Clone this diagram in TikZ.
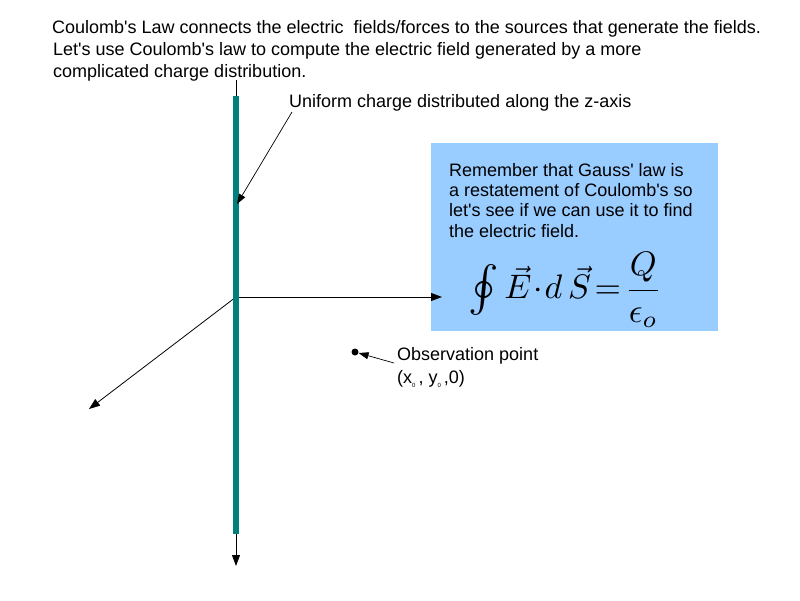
\documentclass[tikz,border=0pt]{standalone}
\usepackage{fontspec}
\setmainfont{Liberation Sans}[Ligatures=TeXOff]
\usetikzlibrary{arrows.meta}
\definecolor{barteal}{RGB}{0,128,124}
\definecolor{boxblue}{RGB}{153,204,255}
\tikzset{
  txt/.style={anchor=west, inner sep=0pt, font=\fontsize{18}{22}\selectfont, align=left},
  axis/.style={line width=0.8pt, -{Triangle[length=11pt,width=8pt]}},
  pointer/.style={line width=0.7pt, -{Triangle[length=10pt,width=7pt]}},
}
\newcommand{\smallsub}[1]{\raisebox{-4pt}{\fontsize{6}{6}\selectfont #1}}
\begin{document}
\begin{tikzpicture}[x=1pt,y=-1pt]
\useasboundingbox (0,0) rectangle (800,600);
% box
\node[fill=boxblue, minimum width=287pt, minimum height=188pt, anchor=north west, inner sep=0pt] (box) at (431,143) {};
% text lines
\node[txt] (t1) at (52,29) {Coulomb's Law connects the electric\ \ fields/forces to the sources that generate the fields.};
\node[txt] (t2) at (53,51) {Let's use Coulomb's law to compute the electric field generated by a more};
\node[txt] (t3) at (53,73) {complicated charge distribution.};
% axes
\coordinate (ztop) at (236,80);
\coordinate (zbot) at (236,566);
\coordinate (O) at (236,297);
\coordinate (yend) at (442,297);
\coordinate (xend) at (89,409);
\draw[line width=0.8pt] (ztop) -- (236,100);
\draw[axis] (236,530) -- (zbot);
\draw[axis] (O) -- (yend);
\draw[axis] (O) -- (xend);
% charged bar
\draw[barteal, line width=6.5pt] (236,96) -- (236,534);
% box text
\node[txt, anchor=north west, font=\fontsize{18}{20.3}\selectfont] (boxtxt) at (449,163) {Remember that Gauss' law is\\a restatement of Coulomb's so\\let's see if we can use it to find\\the electric field.};
\node[inner sep=0pt, scale=3.4, transform shape] (eq) at (565,290) {$\vcenter{\hbox{\scalebox{1.35}{$\oint$}}}\, \vec{E}\!\cdot\! d\,\vec{S}\!=\!\displaystyle\frac{Q}{\epsilon_{o}}$};
% charge label
\node[txt] (ulabel) at (289,103) {Uniform charge distributed along the z-axis};
\coordinate (ustart) at (292,112);
\coordinate (utip) at (237,204);
\draw[pointer] (ustart) -- (utip);
% observation point
\node[circle, fill=black, inner sep=0pt, minimum size=7pt] (obs) at (355,352) {};
\node[txt] (olabel) at (397,356) {Observation point};
\node[txt] (ocoord) at (397,379) {(x\smallsub{0}\,, y\smallsub{0}\,,0)};
\coordinate (ostart) at (394,363);
\draw[pointer] (ostart) -- (obs);
\end{tikzpicture}
\end{document}
